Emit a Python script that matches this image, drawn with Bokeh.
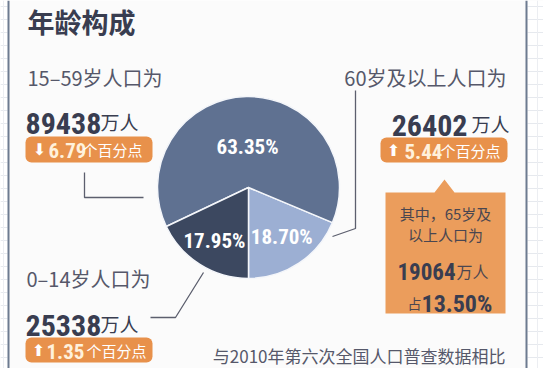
from bokeh.plotting import figure
from bokeh.models import Range1d, BoxAnnotation
from bokeh.core.properties import value
from bokeh.embed import file_html
from bokeh.resources import INLINE
import numpy as np

# ---------------- data ----------------
title = "年龄构成"
slice_groups = ["60岁及以上", "15–59岁", "0–14岁"]
slice_shares = [18.70, 63.35, 17.95]
slice_labels = ["18.70%", "63.35%", "17.95%"]
slice_colors = ["#9cafd3", "#5f7191", "#3c4860"]

group_labels = ["15–59岁人口为", "0–14岁人口为", "60岁及以上人口为"]
group_pop = ["89438", "25338", "26402"]
group_change = ["6.79", "1.35", "5.44"]
group_dir = ["down", "up", "up"]
unit = "万人"
change_unit = "个百分点"

sub_line1 = "其中，65岁及"
sub_line2 = "以上人口为"
sub_pop = "19064"
sub_share = "13.50%"
note = "与2010年第六次全国人口普查数据相比"

# ---------------- style ----------------
CJK = "Noto Sans CJK SC"
NUM = "Roboto Condensed, Roboto"
DARK = "#393d50"
GREY = "#56586a"
ORANGE = "#e8914b"
ORANGE2 = "#eb9d5c"
LINE = "#5c5f6e"

W, H = 543, 368
p = figure(width=W, height=H, x_range=Range1d(0, 543), y_range=Range1d(0, 368),
           toolbar_location=None, output_backend="svg", min_border=0,
           x_axis_location=None, y_axis_location=None)
p.grid.visible = False
p.outline_line_color = None
p.background_fill_color = "#fbfbfb"
p.border_fill_color = "#fbfbfb"


def Y(v):
    return 368 - v


def txt(x, y, s, size, color, font=CJK, style="normal", align="left", baseline="middle"):
    p.text(x=[x], y=[Y(y)], text=[s], text_font_size=f"{size}px", text_color=color,
           text_font=value(font), text_font_style=style, text_align=align,
           text_baseline=baseline)


# outer decoration: grid paper outside the borders
p.quad(left=[0, 527], right=[8, 543], top=[368, 368], bottom=[0, 0], fill_color="#ffffff", line_color=None)
gy = list(range(6, 368, 13))
for (a, b) in [(0, 7), (527, 543)]:
    p.segment(x0=[a] * len(gy), x1=[b] * len(gy), y0=[Y(v) for v in gy], y1=[Y(v) for v in gy],
              line_color="#e6e9ee", line_width=1)
p.segment(x0=[3, 537], x1=[3, 537], y0=[0, 0], y1=[368, 368], line_color="#eceef2", line_width=1)
p.segment(x0=[8, 526], x1=[8, 526], y0=[0, 0], y1=[368, 368],
          line_color="#6d7b90", line_width=2)

# title
txt(27, 21, title, 27, DARK, style="bold")

# ---------------- pie ----------------
cx, cy, R = 248, 187, 91
cum = np.cumsum([0.0] + slice_shares) / 100.0 * 2 * np.pi
starts = -np.pi / 2 + cum[:-1]
ends = -np.pi / 2 + cum[1:]
p.wedge(x=cx, y=Y(cy), radius=R, start_angle=list(starts), end_angle=list(ends),
        fill_color=slice_colors, line_color="#f4f6fa", line_width=1.5)

mids = (starts + ends) / 2
label_r = [0.66, 0.44, 0.70]
lx = [cx + R * f * np.cos(a) for f, a in zip(label_r, mids)]
ly = [Y(cy) + R * f * np.sin(a) for f, a in zip(label_r, mids)]
p.text(x=lx, y=ly, text=slice_labels, text_font_size="21px", text_color="#ffffff",
       text_font=value(NUM), text_font_style="bold", text_align="center",
       text_baseline="middle")

# ---------------- connectors ----------------
p.line(x=[84, 84, 143], y=[Y(172), Y(197), Y(197)], line_color=LINE, line_width=1.3)
p.line(x=[150, 175, 203], y=[Y(317), Y(317), Y(272)], line_color=LINE, line_width=1.3)
p.line(x=[355, 355, 332], y=[Y(90), Y(228), Y(236)], line_color=LINE, line_width=1.3)

# ---------------- group blocks ----------------
# 15-59
txt(27, 77, group_labels[0], 20, GREY)
txt(25, 123, group_pop[0], 30, DARK, font=NUM, style="bold", baseline="alphabetic")
txt(100, 121, unit, 19, DARK, baseline="alphabetic")
# 0-14
txt(26, 278, group_labels[1], 20, GREY)
txt(25, 325, group_pop[1], 30, DARK, font=NUM, style="bold", baseline="alphabetic")
txt(100, 323, unit, 19, DARK, baseline="alphabetic")
# 60+
txt(506, 77, group_labels[2], 20, GREY, align="right")
txt(467, 125, group_pop[2], 30, DARK, font=NUM, style="bold", align="right", baseline="alphabetic")
txt(471, 123, unit, 19, DARK, baseline="alphabetic")

# badges
badges = [(25, 152, 136, 162), (25, 152, 337, 362), (380, 507, 137, 162)]
for (l, r, t, b) in badges:
    p.add_layout(BoxAnnotation(left=l, right=r, top=Y(t), bottom=Y(b), fill_color=ORANGE,
                               fill_alpha=1, line_color=None, border_radius=6, level="underlay"))

arrow_x = [39, 38, 393]
num_x = [48, 46, 404]
unit_x = [82, 86, 440]
badge_y = [149, 350, 150]
for i in range(3):
    glyph = "⬇" if group_dir[i] == "down" else "⬆"
    txt(arrow_x[i], badge_y[i], glyph, 16, "#ffffff", font="DejaVu Sans", align="center")
    txt(num_x[i], badge_y[i] + 1, group_change[i], 21, "#fff1dc", font=NUM, style="bold")
    txt(unit_x[i], badge_y[i], change_unit, 15, "#ffffff")

# callout box for 65+
p.patch(x=[385, 434, 444, 454, 505, 505, 385], y=[Y(192), Y(192), Y(179), Y(192), Y(192), Y(313), Y(313)],
        fill_color=ORANGE2, line_color=None)
txt(445, 213, sub_line1, 15, "#4a4650", align="center")
txt(445, 234, sub_line2, 15, "#4a4650", align="center")
txt(455, 271, sub_pop, 23, DARK, font=NUM, style="bold", align="right", baseline="alphabetic")
txt(456, 270, unit, 16, "#4a4650", baseline="alphabetic")
txt(421, 302, "占", 14, "#4a4650", align="right", baseline="alphabetic")
txt(421, 303, sub_share, 24, DARK, font=NUM, style="bold", baseline="alphabetic")

# note
txt(505, 355, note, 17, GREY, align="right")

open("out.html", "w").write(file_html(p, INLINE))
